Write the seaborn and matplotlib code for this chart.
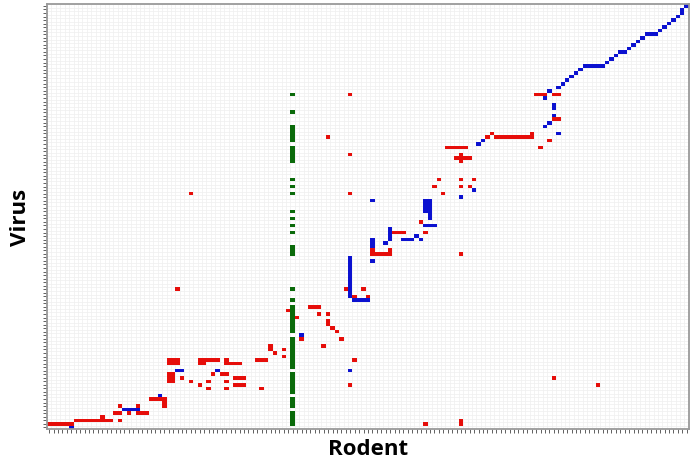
import numpy as np
import pandas as pd
import matplotlib
matplotlib.use("Agg")
import matplotlib.pyplot as plt
from matplotlib.colors import ListedColormap
import seaborn as sns

# Grid size: rodent species (columns) x virus species (rows)
n_rodent = 145
n_virus = 120

# Host-virus associations as rectangular blocks:
# (virus_from, virus_to, rodent_from, rodent_to), inclusive indices
red_links = [
    (1, 1, 0, 5), (2, 2, 6, 14), (3, 3, 12, 12), (2, 2, 16, 16), (4, 4, 15, 16),
    (6, 6, 16, 16), (4, 4, 18, 18), (4, 4, 20, 22), (6, 6, 20, 20), (8, 8, 23, 26),
    (6, 7, 26, 26), (13, 13, 27, 27), (18, 19, 27, 29), (13, 15, 27, 28),
    (14, 14, 30, 30), (13, 13, 32, 32), (12, 12, 34, 34), (13, 13, 36, 36),
    (11, 11, 36, 36), (15, 15, 37, 37), (19, 19, 34, 38), (18, 18, 34, 35),
    (15, 15, 39, 39), (19, 19, 40, 40), (18, 18, 40, 43), (15, 15, 40, 40),
    (13, 13, 40, 40), (11, 11, 40, 40), (14, 14, 42, 44), (12, 12, 42, 44),
    (19, 19, 47, 49), (11, 11, 48, 48), (23, 23, 50, 50), (22, 22, 50, 50),
    (21, 21, 51, 51), (22, 22, 53, 53), (20, 20, 53, 53), (33, 33, 54, 54),
    (31, 31, 56, 56), (34, 34, 59, 61), (32, 32, 61, 61), (32, 32, 63, 63),
    (29, 30, 63, 63), (28, 28, 64, 64), (27, 27, 65, 65), (25, 25, 66, 66),
    (25, 25, 57, 57), (23, 23, 62, 62), (39, 39, 67, 68), (39, 39, 71, 71),
    (37, 37, 69, 69), (37, 37, 72, 72), (19, 19, 69, 69), (12, 12, 68, 68),
    (66, 66, 32, 32), (39, 39, 29, 29), (94, 94, 68, 68), (82, 82, 63, 63),
    (77, 77, 68, 68), (66, 66, 68, 68), (70, 70, 88, 88), (68, 68, 87, 87),
    (66, 66, 89, 89), (60, 60, 86, 86), (58, 58, 84, 84), (55, 55, 85, 85),
    (55, 55, 78, 80), (50, 50, 73, 73), (49, 49, 73, 77), (50, 50, 77, 77),
    (79, 79, 90, 94), (77, 77, 93, 93), (76, 76, 92, 95), (75, 75, 93, 93),
    (70, 70, 93, 93), (68, 68, 93, 93), (68, 68, 95, 95), (70, 70, 96, 96),
    (82, 82, 99, 99), (83, 83, 100, 100), (82, 82, 101, 109), (83, 83, 109, 109),
    (94, 94, 110, 112), (94, 94, 114, 115), (87, 87, 114, 115), (81, 81, 113, 113),
    (79, 79, 111, 111), (1, 1, 85, 85), (1, 2, 93, 93), (14, 14, 114, 114),
    (12, 12, 124, 124), (49, 49, 93, 93),
]

blue_links = [
    (0, 0, 5, 5), (5, 5, 17, 20), (9, 9, 25, 25), (16, 16, 29, 30),
    (16, 16, 38, 38), (26, 26, 57, 57), (16, 16, 68, 68), (37, 48, 68, 68),
    (36, 36, 69, 72), (64, 64, 73, 73), (61, 64, 85, 85), (59, 64, 86, 86),
    (57, 57, 85, 87), (53, 56, 77, 77), (53, 53, 80, 82), (54, 54, 83, 83),
    (53, 53, 84, 84), (51, 53, 73, 73), (52, 52, 76, 76), (47, 47, 73, 73),
    (80, 80, 97, 97), (81, 81, 98, 98), (65, 65, 93, 93), (67, 67, 96, 96),
    (95, 95, 113, 113), (93, 93, 112, 112), (90, 91, 114, 114), (88, 88, 114, 114),
    (86, 86, 113, 113), (85, 85, 112, 112), (83, 83, 115, 115),
    (96, 96, 115, 115), (97, 97, 116, 116), (98, 98, 117, 117), (99, 99, 118, 118),
    (100, 100, 119, 119), (101, 101, 120, 120), (102, 102, 121, 125),
    (103, 103, 126, 126), (104, 104, 127, 127), (105, 105, 128, 128),
    (106, 106, 129, 130), (107, 107, 131, 131), (108, 108, 132, 132),
    (109, 109, 133, 133), (110, 110, 134, 134), (111, 111, 135, 137),
    (112, 112, 138, 138), (113, 113, 139, 139), (114, 114, 140, 140),
    (115, 115, 141, 141), (116, 116, 142, 142), (117, 117, 143, 143),
    (118, 118, 143, 143), (119, 119, 144, 144),
]

green_links = [
    (1, 4, 55, 55), (6, 8, 55, 55), (10, 15, 55, 55), (17, 25, 55, 55),
    (27, 34, 55, 55), (36, 36, 55, 55), (39, 39, 55, 55), (49, 51, 55, 55),
    (55, 55, 55, 55), (57, 57, 55, 55), (59, 59, 55, 55), (61, 61, 55, 55),
    (66, 66, 55, 55), (68, 68, 55, 55), (70, 70, 55, 55), (75, 79, 55, 55),
    (81, 85, 55, 55), (89, 89, 55, 55), (94, 94, 55, 55),
]

link_colors = ["#e60e0a", "#0c12d0", "#0a6a0a"]

# Assemble the association matrix (0 none, 1 red, 2 blue, 3 green)
matrix = np.zeros((n_virus, n_rodent), dtype=int)
for code, blocks in ((1, red_links), (2, blue_links), (3, green_links)):
    for v0, v1, r0, r1 in blocks:
        matrix[v0:v1 + 1, r0:r1 + 1] = code

df = pd.DataFrame(matrix,
                  index=[f"V{i + 1}" for i in range(n_virus)],
                  columns=[f"R{j + 1}" for j in range(n_rodent)])

fig = plt.figure(figsize=(6.91, 4.64), dpi=100)
ax = fig.add_axes([0.068, 0.073, 0.929, 0.916])
ax.set_facecolor("white")

sns.heatmap(df, ax=ax, mask=(matrix == 0), cmap=ListedColormap(link_colors),
            vmin=0.5, vmax=3.5, cbar=False, linewidths=0,
            xticklabels=False, yticklabels=False)
ax.invert_yaxis()

# faint cell grid behind the associations
ax.set_xticks(np.arange(n_rodent + 1), minor=True)
ax.set_yticks(np.arange(n_virus + 1), minor=True)
ax.set_axisbelow(True)
ax.grid(which="minor", color="#efefef", linewidth=0.5)
ax.tick_params(which="minor", length=0)

ax.set_xticks(np.arange(n_rodent) + 0.5)
ax.set_yticks(np.arange(n_virus) + 0.5)
ax.set_xticklabels([])
ax.set_yticklabels([])
ax.tick_params(axis="both", which="major", length=3, width=0.7, color="#606060")

for side, spine in ax.spines.items():
    spine.set_visible(True)
    spine.set_color("#9a9a9a")
    spine.set_linewidth(1.3)

ax.set_xlabel("Rodent", fontsize=16, fontweight="bold", family="Open Sans", labelpad=0)
ax.set_ylabel("Virus", fontsize=16, fontweight="bold", family="Open Sans", labelpad=5)

fig.savefig("out.png", dpi=100)
